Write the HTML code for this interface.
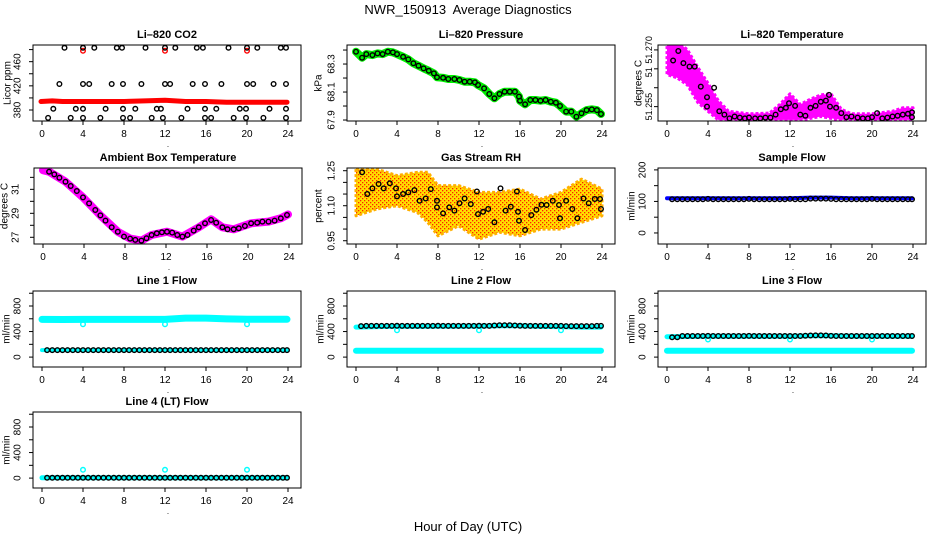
<!DOCTYPE html>
<html><head><meta charset="utf-8"><style>
html,body{margin:0;padding:0;background:#fff;}
svg{display:block;font-family:"Liberation Sans",Arial,sans-serif;}
</style></head><body>
<svg id="chart" width="936" height="540" viewBox="0 0 936 540" xmlns="http://www.w3.org/2000/svg">
<defs>
<pattern id="rhpat" width="4" height="4" patternUnits="userSpaceOnUse"><rect width="4" height="4" fill="#ffe000"/><rect x="0" y="0" width="1.3" height="1.3" fill="#ff2000"/><rect x="2" y="2" width="1.3" height="1.3" fill="#ff2000"/></pattern>
</defs>
<text x="468" y="14" text-anchor="middle" font-size="13">NWR_150913&#160; Average Diagnostics</text>
<text x="468" y="531" text-anchor="middle" font-size="13">Hour of Day (UTC)</text>
</svg>
<script>
// ---------- data ----------
const co2TopHours=[2.2,4,5.1,7.3,7.8,10.1,12,13,15.1,15.7,18.2,20,21,23.3,23.8];
const co2MidHours=[1.7,4,4.6,6.8,7.9,9.7,12,12.5,14.7,15.9,17.5,20,20.6,22.6,23.8];
const co2LowHours=[1.1,3.3,4,6.2,7.9,9.1,11.2,11.6,14.2,15.9,17,19.3,19.9,22.2,23.8];
const co2BotHours=[0.6,2.8,4,5.7,7.9,8.6,10.7,11.8,13.6,15.9,16.5,18.7,19.9,21.6,23.8];
const co2Levels=[483,423,382,367];
const co2RedHours=[-0.1,1,2,4,6,8,10,12,14,16,18,20,22,23.9];
const co2RedVals=[394,395,394,394,394,394,395,396,394,394,393,393,393,393];
const co2RedSpikeHours=[4,12,20];
const co2RedSpikeVals=[478,478,478];

const presHours=[0,0.6,1,1.6,2.1,2.6,3.1,3.6,4,4.6,5.1,5.6,6.1,6.6,7.1,7.6,7.9,8.5,9,9.6,10.1,10.6,11.1,11.6,11.9,12.5,13,13.5,14,14.5,15,15.5,15.9,16,16.5,17,17.5,18,18.5,19,19.5,19.9,20.5,21,21.5,22,22.5,23,23.5,23.9];
const presVals=[68.388,68.345,68.371,68.364,68.376,68.371,68.388,68.383,68.371,68.352,68.333,68.305,68.288,68.269,68.252,68.233,68.205,68.202,68.193,68.193,68.186,68.174,68.174,68.169,68.150,68.126,68.086,68.055,68.086,68.102,68.102,68.102,68.067,68.038,68.012,68.043,68.043,68.038,68.043,68.031,68.024,68.000,67.960,67.960,67.924,67.948,67.971,67.976,67.971,67.943];

const tempHours=[0.6,1.1,1.6,2.2,2.7,3.3,3.9,3.9,4.6,5.1,5.6,6.1,6.6,7.1,7.6,8,8.6,9.1,9.6,10.1,10.6,11.1,11.6,11.9,12.5,13,13.5,14,14.5,15,15.5,15.8,15.9,16.5,17,17.5,18,18.6,19.1,19.6,20,20.5,21,21.5,22,22.5,23,23.5,23.9,23.9];
const tempVals=[51.2672,51.2697,51.2665,51.2656,51.2656,51.2603,51.2575,51.2550,51.2600,51.2538,51.2529,51.2519,51.2524,51.2521,51.2519,51.2521,51.2519,51.2519,51.2521,51.2521,51.2529,51.2543,51.2547,51.2559,51.2552,51.2529,51.2526,51.2547,51.2552,51.2563,51.2566,51.2581,51.2550,51.2547,51.2533,51.2522,51.2524,51.2521,51.2519,51.2519,51.2522,51.2533,51.2519,51.2521,51.2524,51.2526,51.2529,51.2531,51.2535,51.2522];
const tempEnvHours=[0,1,2,3,4,5,6,8,10,11,12,13,14,15,16,17,18,20,22,23,24];
const tempEnvHigh=[51.2719,51.2723,51.2700,51.2654,51.2612,51.2566,51.2538,51.2531,51.2533,51.2556,51.2584,51.2556,51.2570,51.2581,51.2584,51.2543,51.2531,51.2531,51.2538,51.2547,51.2547];
const tempEnvLow=[51.2635,51.2626,51.2607,51.2561,51.2538,51.2515,51.2515,51.2515,51.2515,51.2515,51.2515,51.2515,51.2519,51.2524,51.2519,51.2515,51.2515,51.2515,51.2515,51.2515,51.2515];

const ambHours=[0.6,1.1,1.6,2.2,2.7,3.3,3.9,4.5,5.1,5.6,6.1,6.7,7.3,7.9,8.5,9,9.6,10.1,10.6,11.1,11.6,12.1,12.6,13.1,13.6,14.1,14.7,15.2,15.8,16.4,16.9,17.5,18,18.6,19.1,19.7,20.3,20.9,21.4,22,22.6,23.2,23.8];
const ambVals=[32.47,32.25,31.97,31.64,31.28,30.86,30.33,29.83,29.28,28.83,28.39,27.83,27.47,27.06,26.89,26.78,26.72,26.92,27.19,27.33,27.42,27.47,27.39,27.19,27.06,27.19,27.56,27.83,28.17,28.44,28.22,27.83,27.67,27.67,27.75,27.94,28.17,28.22,28.31,28.31,28.39,28.58,28.86];
const ambMagHours=[0,0.6,2.2,3.9,5.6,7.3,8.5,9.6,10.6,12.1,13.6,15.2,16.4,17.5,18.6,20.3,22,23.2,23.9];
const ambMagVals=[32.6,32.47,31.64,30.33,28.83,27.47,26.89,26.72,27.19,27.47,27.06,27.83,28.50,27.83,27.67,28.17,28.31,28.58,28.90];

const rhHours=[0.6,1.1,1.6,2.2,2.7,3.3,3.9,4,4.6,5.1,5.7,6.2,6.8,7.3,7.9,7.9,8.5,9.1,9.6,10.1,10.6,11.2,11.8,11.9,12.4,12.9,13.5,14.1,14.6,15.1,15.7,15.8,15.9,16.5,17.1,17.6,18.1,18.6,19.2,19.8,19.9,20.5,21.1,21.6,22.2,22.7,23.3,23.8,23.9];
const rhVals=[1.243,1.150,1.174,1.193,1.174,1.196,1.174,1.140,1.150,1.157,1.167,1.121,1.131,1.171,1.121,1.093,1.067,1.093,1.079,1.111,1.131,1.107,1.161,1.064,1.074,1.086,1.029,1.174,1.079,1.096,1.161,1.074,1.036,0.996,1.060,1.083,1.104,1.103,1.121,1.103,1.046,1.121,1.086,1.046,1.131,1.111,1.129,1.129,1.086];
const rhEnvHours=[0,2,4,6,7,8,10,12,14,16,18,20,22,24];
const rhEnvHigh=[1.257,1.257,1.229,1.243,1.243,1.186,1.186,1.157,1.157,1.171,1.129,1.157,1.214,1.171];
const rhEnvLow=[1.057,1.086,1.100,1.071,1.029,0.971,1.014,0.957,0.986,0.971,1.000,1.000,1.029,1.057];

const flowHours=[0.5,1,1.5,2,2.5,3,3.5,4,4.5,5,5.5,6,6.5,7,7.5,8,8.5,9,9.5,10,10.5,11,11.5,12,12.5,13,13.5,14,14.5,15,15.5,16,16.5,17,17.5,18,18.5,19,19.5,20,20.5,21,21.5,22,22.5,23,23.5,23.9];
const sampleVals=[107,107,107,107,107,107,107,108,107,107,107,107,107,107,107,108,107,107,107,107,107,107,107,108,107,107,107,109,109,109,109,108,107,107,107,107,107,107,107,108,107,107,107,107,107,107,107,107];
const line1Vals=[110,110,110,110,110,110,110,110,110,110,110,110,110,110,110,110,110,110,110,110,110,110,110,110,110,110,110,110,110,110,110,110,110,110,110,110,110,110,110,110,110,110,110,110,110,110,110,110];
const line2Vals=[485,488,488,488,488,488,488,490,488,488,488,488,488,488,488,490,488,488,488,488,488,488,488,490,488,488,495,500,500,500,495,490,488,488,488,488,488,488,488,488,485,485,485,485,485,485,488,488];
const line3Vals=[310,312,330,330,330,330,330,332,330,330,330,330,330,330,330,332,330,330,330,330,330,330,330,330,330,330,335,338,340,340,338,332,330,330,330,330,330,330,330,330,330,330,330,330,330,330,330,330];
const line4Vals=[5,5,5,5,5,5,5,5,5,5,5,5,5,5,5,5,5,5,5,5,5,5,5,5,5,5,5,5,5,5,5,5,5,5,5,5,5,5,5,5,5,5,5,5,5,5,5,5];
const bandHours=[0,2,4,6,8,10,12,14,16,18,20,22,23.9];
const sampleBlue=[110,110,110,110,110,110,110,112,112,110,110,110,110];
const line1CyanHigh=[590,588,590,590,590,590,590,610,610,598,592,592,592];
const line1CyanLow=[110,110,110,110,110,110,110,110,110,110,110,110,110];
const line2CyanHigh=[470,478,480,480,482,482,485,490,490,480,478,470,470];
const line2CyanLow=[100,100,100,100,100,100,100,100,100,100,100,100,100];
const line3CyanHigh=[320,322,325,325,325,325,325,335,335,325,325,325,325];
const line3CyanLow=[100,100,100,100,100,100,100,100,100,100,100,100,100];
const line4Cyan=[5,5,5,5,5,5,5,5,5,5,5,5,5];
const dipHours=[4,12,20];
const line1Dips=[515,515,515];
const line2Dips=[420,420,420];
const line3Dips=[275,275,275];
const line4Dips=[130,130,130];
const xTicks=[0,4,8,12,16,20,24];

// ---------- drawing ----------
const svg=document.getElementById('chart');
const NS='http://www.w3.org/2000/svg';
function mk(tag,attrs,parent){const e=document.createElementNS(NS,tag);for(const k in attrs)e.setAttribute(k,attrs[k]);(parent||svg).appendChild(e);return e;}
let clipId=0;
function panel(cfg){
  const g=mk('g',{});
  
  
  const L=cfg.left,T=cfg.top,W=268,H=76;
  const x=h=>L+9+h*10.25;
  const y=v=>T+H-(v-cfg.ymin)/(cfg.ymax-cfg.ymin)*H;
  const id='c'+(clipId++);
  const cp=mk('clipPath',{id:id},g);mk('rect',{x:L,y:T,width:W,height:H},cp);
  const plot=mk('g',{'clip-path':'url(#'+id+')'},g);
  
  
  const t=mk('text',{x:L+W/2,y:T-7,'text-anchor':'middle','font-size':11,'font-weight':'bold'},g);t.textContent=cfg.title;
  
  
  const b=mk('rect',{x:L,y:T,width:W,height:H,fill:'none',stroke:'#000','stroke-width':1},g);
  
  
  const xa=mk('g',{},g);
  
  
  mk('line',{x1:x(0),x2:x(24),y1:T+H,y2:T+H,stroke:'#000'},xa);
  xTicks.forEach(v=>{mk('line',{x1:x(v),x2:x(v),y1:T+H,y2:T+H+4,stroke:'#000'},xa);
    const tx=mk('text',{x:x(v),y:T+H+16,'text-anchor':'middle','font-size':10},xa);tx.textContent=v;});
  const dot=mk('text',{x:x(12)+3,y:T+H+26,'text-anchor':'middle','font-size':8},xa);dot.textContent='.';
  const ya=mk('g',{},g);
  
  
  const yt=cfg.yticks;
  mk('line',{x1:L,x2:L,y1:y(yt[0]),y2:y(yt[yt.length-1]),stroke:'#000'},ya);
  const fs=cfg.fs||10;
  yt.forEach((v,i)=>{mk('line',{x1:L-4,x2:L,y1:y(v),y2:y(v),stroke:'#000'},ya);
    if(cfg.ylabels[i]){const lx=L-(cfg.lo||15),ly=y(v);const tx=mk('text',{x:lx,y:ly,'text-anchor':'middle','dominant-baseline':'central','font-size':fs,transform:'rotate(-90 '+lx+' '+ly+')'},ya);tx.textContent=cfg.ylabels[i];}});
  (cfg.extraLabels||[]).forEach(e=>{const lx=L-(cfg.lo||15),ly=y(e[0]);const tx=mk('text',{x:lx,y:ly,'text-anchor':'middle','dominant-baseline':'central','font-size':fs,transform:'rotate(-90 '+lx+' '+ly+')'},ya);tx.textContent=e[1];});
  const yl=L-(cfg.to||26),ym=T+H/2;
  const yti=mk('text',{x:yl,y:ym,'text-anchor':'middle','dominant-baseline':'central','font-size':10,transform:'rotate(-90 '+yl+' '+ym+')'},g);yti.textContent=cfg.ylab;
  
  
  return {plot,x,y};
}
function band(p,hs,vs,color,w,name){
  const d=hs.map((h,i)=>(i?'L':'M')+p.x(h).toFixed(1)+','+p.y(vs[i]).toFixed(1)).join('');
  const e=mk('path',{d:d,fill:'none',stroke:color,'stroke-width':w,'stroke-linejoin':'round','stroke-linecap':'round'},p.plot);
  
  
}
function env(p,hs,hi,lo,fill,stroke,name){
  let d=hs.map((h,i)=>(i?'L':'M')+p.x(h).toFixed(1)+','+p.y(hi[i]).toFixed(1)).join('');
  for(let i=hs.length-1;i>=0;i--)d+='L'+p.x(hs[i]).toFixed(1)+','+p.y(lo[i]).toFixed(1);
  const e=mk('path',{d:d+'Z',fill:fill,stroke:stroke,'stroke-width':3,'stroke-linejoin':'round','stroke-dasharray':'3 2'},p.plot);
  
  
}
function pts(p,hs,vs,color,name,r){
  const n=Math.min(hs.length,vs.length);
  for(let i=0;i<n;i++){
    const c=mk('circle',{cx:p.x(hs[i]).toFixed(1),cy:p.y(vs[i]).toFixed(1),r:r||2.3,fill:'none',stroke:color,'stroke-width':1.4},p.plot);
    
    
  }
}
const flowTicks=[0,200,400,600,800,1000],flowLabels=['0','','400','','800',''];

let p=panel({name:'co2',title:'Li\u2013820 CO2',left:33,top:45,ymin:361.8,ymax:487.6,yticks:[380,400,420,440,460,480],ylabels:['380','','420','','460',''],ylab:'Licor ppm',to:25});
band(p,co2RedHours,co2RedVals,'#ff0000',5,'co2-minute-band');
pts(p,co2RedSpikeHours,co2RedSpikeVals,'#ff0000','co2-red-point');
[co2TopHours,co2MidHours,co2LowHours,co2BotHours].forEach((hs,k)=>pts(p,hs,hs.map(()=>co2Levels[k]),'#000','co2-reference-point'));

p=panel({name:'pressure',title:'Li\u2013820 Pressure',left:347,top:45,ymin:67.893,ymax:68.436,yticks:[67.9,68.0,68.1,68.2,68.3,68.4],ylabels:['67.9','','68.1','','68.3',''],ylab:'kPa',to:28});
band(p,presHours,presVals,'#00ee00',8,'pressure-minute-band');
pts(p,presHours,presVals,'#000','pressure-point');

p=panel({name:'li820-temp',title:'Li\u2013820 Temperature',left:658,top:45,ymin:51.2512,ymax:51.2713,yticks:[51.255,51.26,51.265,51.27],ylabels:['51.255','','','51.270'],extraLabels:[[51.2641,'51']],fs:9,ylab:'degrees C',lo:9,to:19});
env(p,tempEnvHours,tempEnvHigh,tempEnvLow,'#ff00ff','#ff00ff','li820-temp-minute-cloud');
pts(p,tempHours,tempVals,'#000','li820-temp-point');

p=panel({name:'ambient-temp',title:'Ambient Box Temperature',left:34,top:168,ymin:26.44,ymax:32.78,yticks:[27,28,29,30,31,32],ylabels:['27','','29','','31',''],ylab:'degrees C',lo:18,to:29});
band(p,ambMagHours,ambMagVals,'#ff00ff',8,'ambient-minute-band');
pts(p,ambHours,ambVals,'#000','ambient-point');

p=panel({name:'gas-rh',title:'Gas Stream RH',left:347,top:168,ymin:0.936,ymax:1.2616,yticks:[0.95,1.0,1.05,1.1,1.15,1.2,1.25],ylabels:['0.95','','','1.10','','','1.25'],ylab:'percent',to:28});
env(p,rhEnvHours,rhEnvHigh,rhEnvLow,'url(#rhpat)','#ffb000','gas-rh-minute-cloud');
pts(p,rhHours,rhVals,'#000','gas-rh-point');

p=panel({name:'sample-flow',title:'Sample Flow',left:658,top:168,ymin:-35,ymax:206,yticks:[0,50,100,150,200],ylabels:['0','','100','','200'],ylab:'ml/min'});
band(p,bandHours,sampleBlue,'#0000ff',4,'sample-flow-band');
pts(p,flowHours,sampleVals,'#000','sample-flow-point');

p=panel({name:'line1-flow',title:'Line 1 Flow',left:33,top:291,ymin:-155,ymax:1035,yticks:flowTicks,ylabels:flowLabels,ylab:'ml/min'});
band(p,bandHours,line1CyanHigh,'#00ffff',7,'line1-cyan-band');
band(p,bandHours,line1CyanLow,'#00ffff',4,'line1-cyan-low-band');
pts(p,dipHours,line1Dips,'#00ffff','line1-cyan-point');
pts(p,flowHours,line1Vals,'#000','line1-point');

p=panel({name:'line2-flow',title:'Line 2 Flow',left:347,top:291,ymin:-155,ymax:1035,yticks:flowTicks,ylabels:flowLabels,ylab:'ml/min'});
band(p,bandHours,line2CyanHigh,'#00ffff',5,'line2-cyan-band');
band(p,bandHours,line2CyanLow,'#00ffff',6,'line2-cyan-low-band');
pts(p,dipHours,line2Dips,'#00ffff','line2-cyan-point');
pts(p,flowHours,line2Vals,'#000','line2-point');

p=panel({name:'line3-flow',title:'Line 3 Flow',left:658,top:291,ymin:-155,ymax:1035,yticks:flowTicks,ylabels:flowLabels,ylab:'ml/min'});
band(p,bandHours,line3CyanHigh,'#00ffff',5,'line3-cyan-band');
band(p,bandHours,line3CyanLow,'#00ffff',6,'line3-cyan-low-band');
pts(p,dipHours,line3Dips,'#00ffff','line3-cyan-point');
pts(p,flowHours,line3Vals,'#000','line3-point');

p=panel({name:'line4-flow',title:'Line 4 (LT) Flow',left:33,top:412,ymin:-155,ymax:1035,yticks:flowTicks,ylabels:flowLabels,ylab:'ml/min'});
band(p,bandHours,line4Cyan,'#00ffff',5,'line4-cyan-band');
pts(p,dipHours,line4Dips,'#00ffff','line4-cyan-point');
pts(p,flowHours,line4Vals,'#000','line4-point');
</script>
</body></html>
